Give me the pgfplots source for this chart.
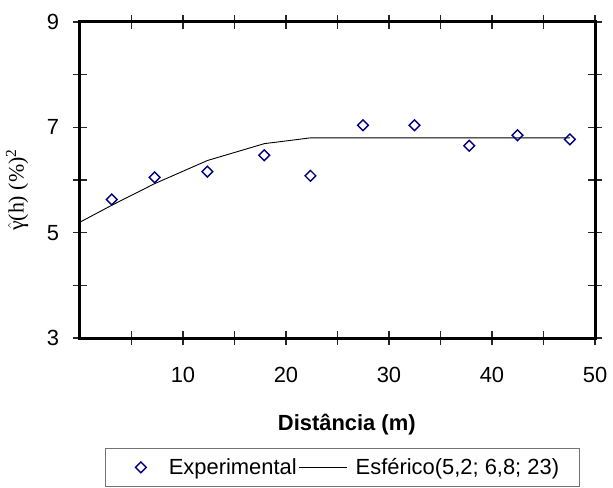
\documentclass[border=0pt]{standalone}
\usepackage{pgfplots}
\pgfplotsset{compat=1.18}
\usepackage{fontspec}
\setmainfont{Liberation Sans}
\newfontfamily\serif{Liberation Serif}
\definecolor{navyc}{HTML}{000080}
\pgfplotsset{
  lineleg/.style={legend image code/.code={\draw[##1] (0bp,0bp) -- (48bp,0bp);}},
  markleg/.style={legend image code/.code={\path[draw=none] (0bp,0bp) -- (35bp,0bp); \path[##1, draw=none] plot coordinates {(15bp,0bp)};}},
}
\begin{document}
\begin{tikzpicture}
\useasboundingbox (-80bp,-150bp) rectangle (533bp,338bp);
\begin{axis}[
  scale only axis, width=515bp, height=316bp,
  xmin=0, xmax=50, ymin=3, ymax=9,
  axis line style={line width=3bp},
  xtick={5,10,...,50}, xticklabels={,10,,20,,30,,40,,50},
  ytick={3,4,...,9}, yticklabels={3,,5,,7,,9},
  tick align=center, major tick length=14bp,
  tick style={line width=1.2bp, black!85},
  ticklabel style={font=\fontsize{22}{24}\selectfont},
  xticklabel style={anchor=center, yshift=-30bp},
  yticklabel style={anchor=center, xshift=-20bp},
  xlabel={\textbf{Distância (m)}},
  xlabel style={at={(axis description cs:0.518,0)}, anchor=center, yshift=-87bp, font=\fontsize{22}{24}\selectfont},
  ylabel={{\serif$\hat{\mbox{γ}}$(h) (\%)\textsuperscript{2}}},
  ylabel style={at={(axis description cs:-0.1223,0.468)}, anchor=center, font=\fontsize{22}{24}\selectfont},
  legend style={at={(axis description cs:0.5097,-0.3481)}, anchor=north, legend columns=2,
    draw=black!55, line width=1bp, font=\fontsize{22}{24}\selectfont,
    inner xsep=20bp, inner ysep=8bp,
    nodes={inner xsep=0bp, inner ysep=2bp},
    /tikz/every odd column/.append style={column sep=8bp},
    /tikz/every even column/.append style={column sep=2bp}},
  legend cell align=left,
]
\addplot[only marks, mark=square, mark size=3.8bp, mark options={draw=navyc, line width=1.4bp, fill=none, rotate=45}, markleg]
  coordinates {(3.08,5.63) (7.24,6.05) (12.37,6.16) (17.89,6.47) (22.37,6.08) (27.47,7.04) (32.47,7.04) (37.79,6.65) (42.47,6.85) (47.56,6.77)};
\addlegendentry{Experimental}
\addplot[black, line width=0.9bp, mark=none, lineleg]
  coordinates {(0,5.2) (3.08,5.52) (7.24,5.93) (12.37,6.37) (17.89,6.69) (22.37,6.80) (27.47,6.8) (32.47,6.8) (37.79,6.8) (42.47,6.8) (47.56,6.8)};
\addlegendentry{Esférico(5,2; 6,8; 23)}
\end{axis}
\end{tikzpicture}
\end{document}
